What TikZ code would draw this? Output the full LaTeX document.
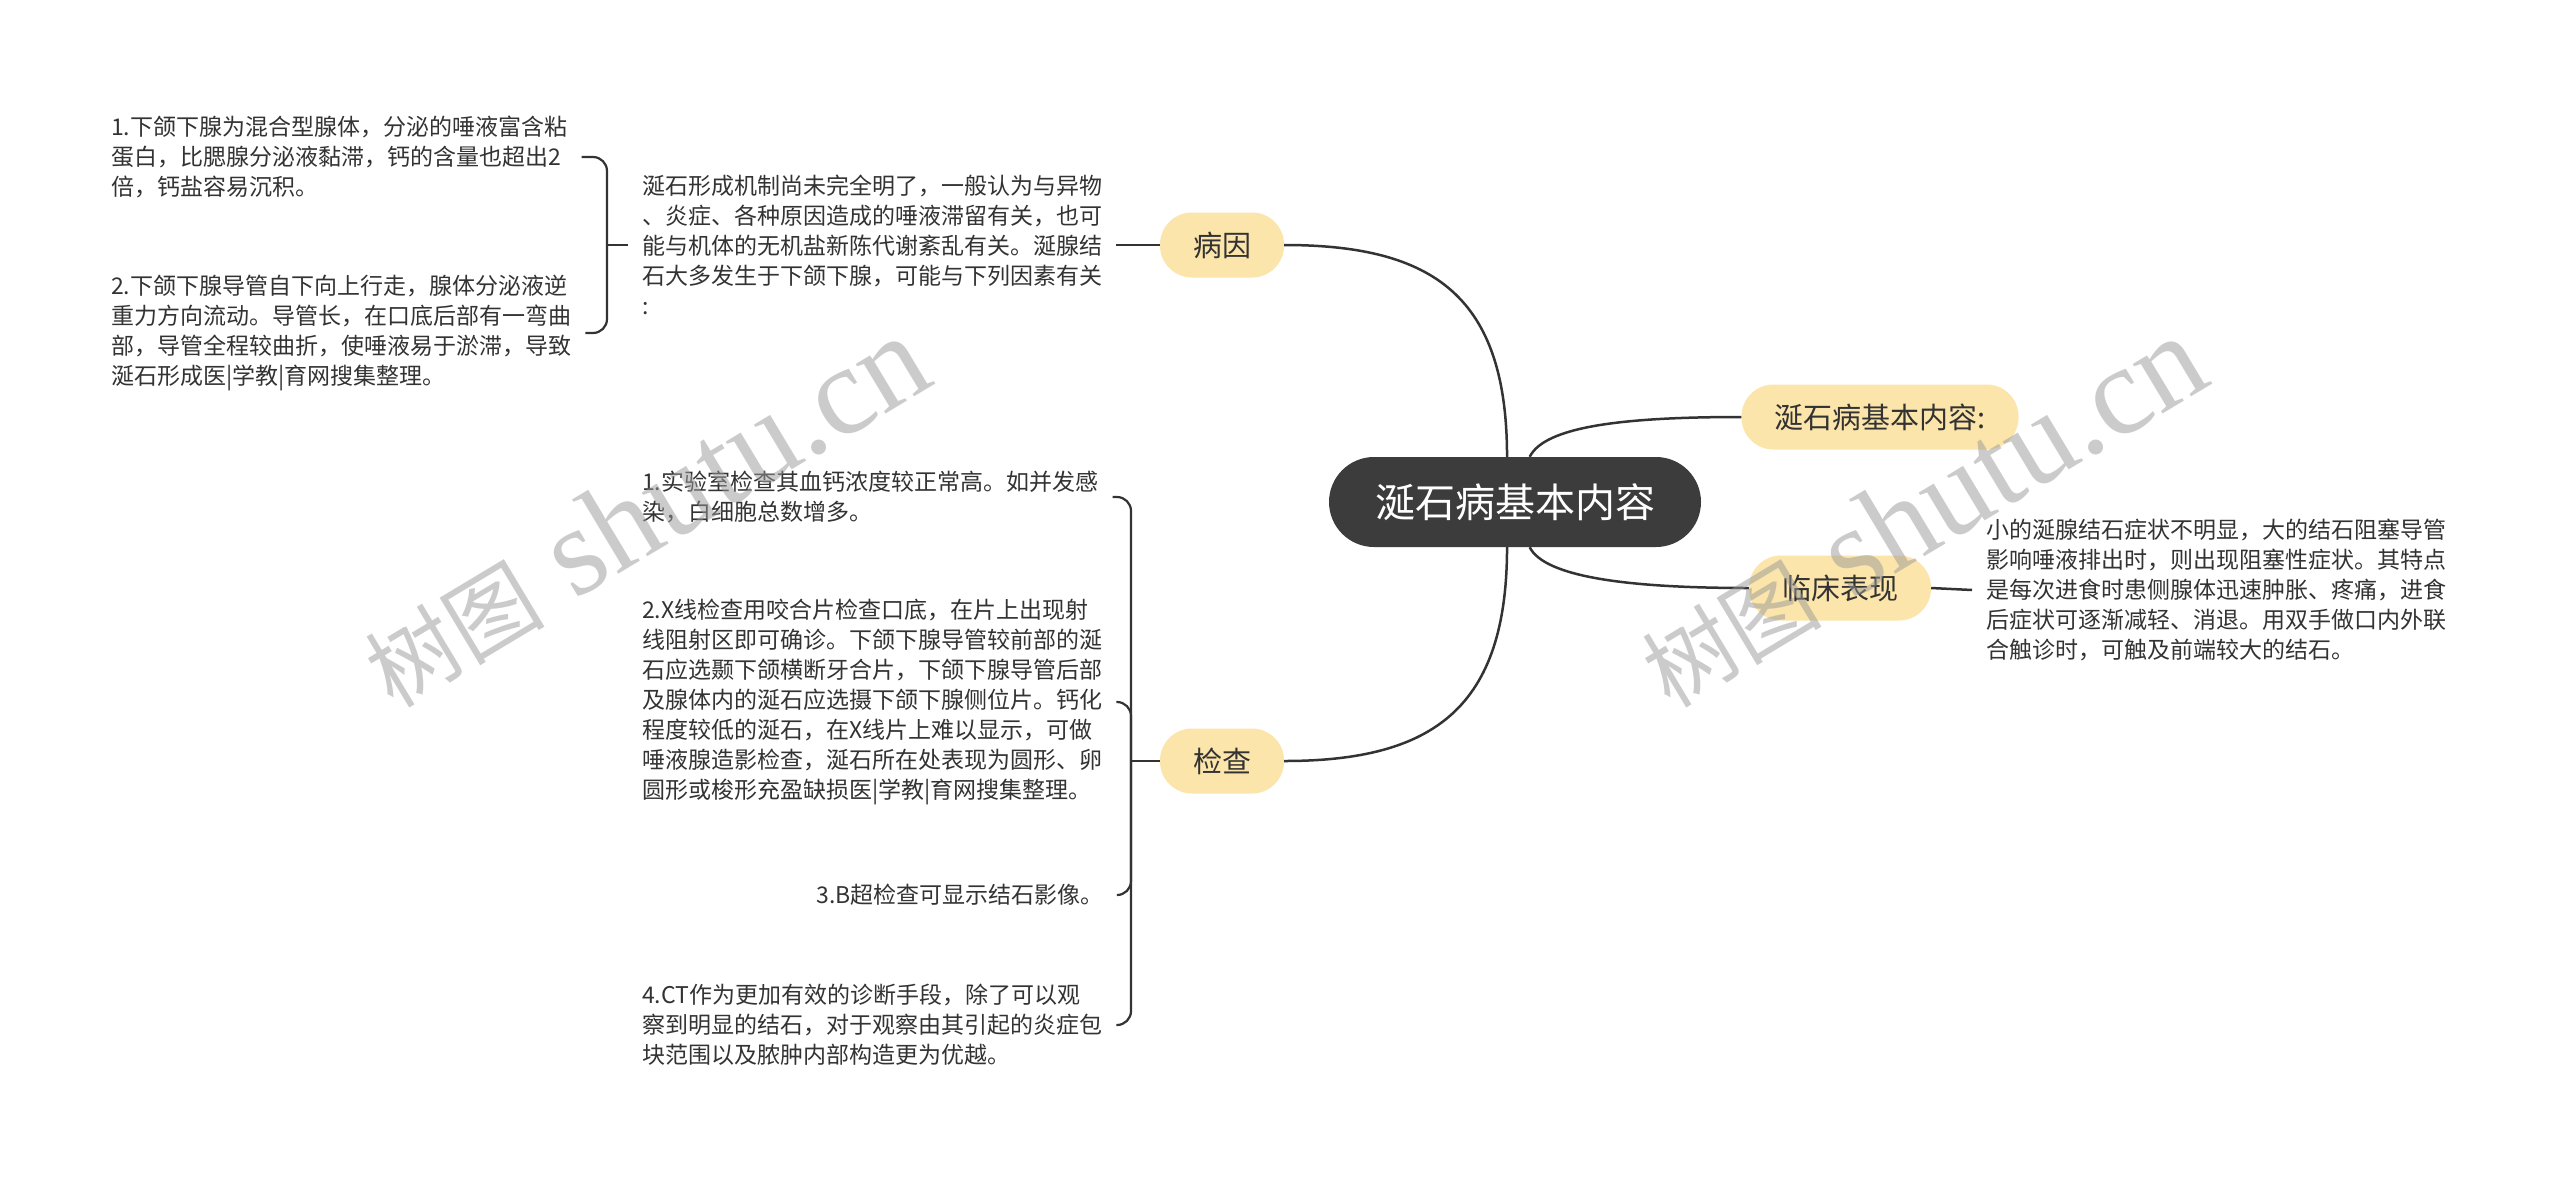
\documentclass[tikz,border=0pt]{standalone}
\usepackage{fontspec}
\setmainfont{Noto Sans CJK SC}
\newfontfamily\wmfont{Liberation Serif}
\definecolor{inkgray}{HTML}{333333}
\definecolor{rootgray}{HTML}{3C3C3C}
\definecolor{topicfill}{HTML}{FCE5AA}
\begin{document}
\begin{tikzpicture}[x=1pt,y=-1pt,
				root/.style={rectangle,rounded corners=45pt,fill=rootgray,text=white,minimum height=90pt,inner xsep=46pt,font=\fontsize{40}{40}\selectfont},
				topic/.style={rectangle,rounded corners=32pt,fill=topicfill,text=inkgray,minimum height=65pt,inner xsep=33pt,font=\fontsize{29}{29}\selectfont},
				note/.style={align=left,text=inkgray,inner xsep=14pt,inner ysep=0pt,font=\fontsize{23}{30}\selectfont},
				link/.style={draw=inkgray,line width=2.5pt},
				fork/.style={draw=inkgray,line width=2.2pt,rounded corners=14pt},
				wm/.style={rotate=31,text=black!40,text opacity=0.5,font=\wmfont\fontsize{126}{126}\selectfont}]
\useasboundingbox[fill=white] (0,0) rectangle (2560,1181);
% centre and main branches
\node[root] (root) at (1515,502) {涎石病基本内容};
\node[topic] (cause) at (1222,245) {病因};
\node[topic] (exam) at (1222,761) {检查};
\node[topic] (basic) at (1880,417) {涎石病基本内容:};
\node[topic] (sign) at (1840,588) {临床表现};
\draw[link] (root.100) .. controls +(0,-160) and +(150,0) .. (cause.east);
\draw[link] (root.-100) .. controls +(0,160) and +(150,0) .. (exam.east);
\draw[link] (root.72) .. controls +(15,-30) and +(-120,0) .. (basic.west);
\draw[link] (root.-72) .. controls +(15,30) and +(-120,0) .. (sign.west);
% 病因
\node[note,anchor=west] (causetxt) at (628,245) {涎石形成机制尚未完全明了，一般认为与异物\\、炎症、各种原因造成的唾液滞留有关，也可\\能与机体的无机盐新陈代谢紊乱有关。涎腺结\\石大多发生于下颌下腺，可能与下列因素有关\\:};
\node[note,anchor=west] (cause1) at (97,157) {1.下颌下腺为混合型腺体，分泌的唾液富含粘\\蛋白，比腮腺分泌液黏滞，钙的含量也超出2\\倍，钙盐容易沉积。};
\node[note,anchor=west] (cause2) at (97,333) {2.下颌下腺导管自下向上行走，腺体分泌液逆\\重力方向流动。导管长，在口底后部有一弯曲\\部，导管全程较曲折，使唾液易于淤滞，导致\\涎石形成医|学教|育网搜集整理。};
\coordinate (causefork) at (607,245);
\draw[link] (cause.west) -- (causetxt.east);
\draw[fork] (causetxt.west) -- (causefork);
\draw[fork] (causefork) |- (cause1.east);
\draw[fork] (causefork) |- (cause2.east);
% 检查
\node[note,anchor=west] (exam1) at (628,497) {1.实验室检查其血钙浓度较正常高。如并发感\\染，白细胞总数增多。};
\node[note,anchor=west] (exam2) at (628,702) {2.X线检查用咬合片检查口底，在片上出现射\\线阻射区即可确诊。下颌下腺导管较前部的涎\\石应选颞下颌横断牙合片，下颌下腺导管后部\\及腺体内的涎石应选摄下颌下腺侧位片。钙化\\程度较低的涎石，在X线片上难以显示，可做\\唾液腺造影检查，涎石所在处表现为圆形、卵\\圆形或梭形充盈缺损医|学教|育网搜集整理。};
\node[note,anchor=east] (exam3) at (1118,895) {3.B超检查可显示结石影像。};
\node[note,anchor=west] (exam4) at (628,1025) {4.CT作为更加有效的诊断手段，除了可以观\\察到明显的结石，对于观察由其引起的炎症包\\块范围以及脓肿内部构造更为优越。};
\coordinate (examfork) at (1131,761);
\draw[fork] (exam.west) -- (examfork);
\draw[fork] (examfork) |- (exam1.east);
\draw[fork] (examfork) |- (exam2.east);
\draw[fork] (examfork) |- (exam3.east);
\draw[fork] (examfork) |- (exam4.east);
% 临床表现
\node[note,anchor=west] (signtxt) at (1972,590) {小的涎腺结石症状不明显，大的结石阻塞导管\\影响唾液排出时，则出现阻塞性症状。其特点\\是每次进食时患侧腺体迅速肿胀、疼痛，进食\\后症状可逐渐减轻、消退。用双手做口内外联\\合触诊时，可触及前端较大的结石。};
\draw[link] (sign.east) -- (signtxt.west);
% watermarks
\node[wm] (wm1) at (645,512) {{\normalfont\fontsize{90}{90}\selectfont 树图} shutu.cn};
\node[wm] (wm2) at (1922,512) {{\normalfont\fontsize{90}{90}\selectfont 树图} shutu.cn};
\end{tikzpicture}
\end{document}
